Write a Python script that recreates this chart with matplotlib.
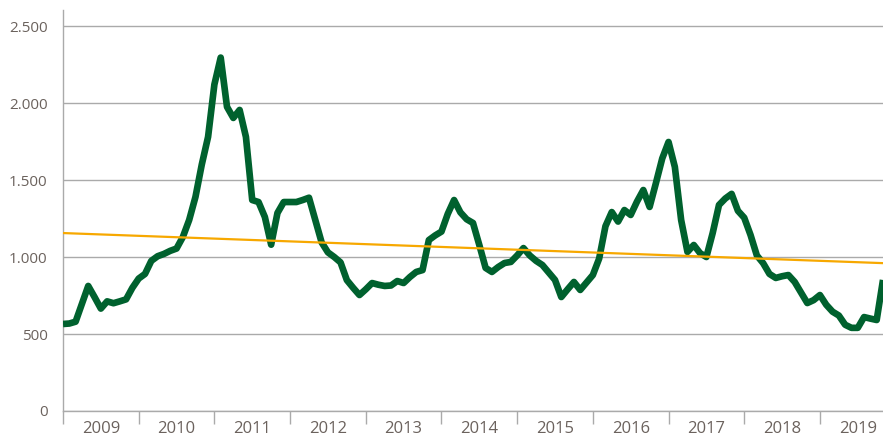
import numpy as np
import matplotlib
matplotlib.use("Agg")
import matplotlib.pyplot as plt
from matplotlib.ticker import FixedLocator, FuncFormatter

# Monthly values, Jan 2009 .. Nov 2019
values = [
    565, 568, 580, 695, 812, 740, 665, 712, 700, 712, 725, 800,      # 2009
    860, 890, 975, 1005, 1020, 1040, 1055, 1130, 1240, 1390, 1600, 1780,  # 2010
    2120, 2295, 1975, 1903, 1955, 1780, 1370, 1357, 1260, 1080, 1286, 1357,  # 2011
    1357, 1357, 1370, 1385, 1240, 1095, 1030, 1000, 965, 850, 800, 753,  # 2012
    790, 831, 820, 812, 815, 844, 831, 870, 903, 915, 1110, 1140,  # 2013
    1165, 1280, 1370, 1290, 1245, 1221, 1078, 929, 903, 935, 961, 968,  # 2014
    1010, 1058, 1010, 975, 948, 900, 851, 740, 790, 838, 786, 835,  # 2015
    883, 990, 1200, 1292, 1230, 1305, 1273, 1360, 1435, 1325, 1480, 1640,  # 2016
    1747, 1585, 1240, 1033, 1078, 1025, 1000, 1156, 1338, 1380, 1410, 1300,  # 2017
    1255, 1143, 1010, 960, 890, 864, 875, 883, 838, 770, 701, 720,  # 2018
    753, 690, 645, 620, 560, 540, 540, 610, 600, 591, 851,  # 2019
]
years = ["2009", "2010", "2011", "2012", "2013", "2014", "2015", "2016", "2017", "2018", "2019"]
y_ticks = [0, 500, 1000, 1500, 2000, 2500]

x = np.arange(len(values))
coef = np.polyfit(x, values, 1)
trend = np.polyval(coef, x)

fig = plt.figure(figsize=(8.83, 4.37), dpi=100)
ax = fig.add_axes([63 / 883, 26 / 437, 1 - 63 / 883, (411 - 10) / 437])

label_color = "#6b625d"
grid_color = "#aaaaaa"

ax.set_xlim(0, len(values) - 1)
ax.set_ylim(0, 2604)

ax.yaxis.set_major_locator(FixedLocator(y_ticks))
ax.yaxis.set_major_formatter(FuncFormatter(lambda v, p: f"{int(v):,}".replace(",", ".")))
ax.grid(axis="y", color=grid_color, linewidth=1.0, zorder=0)
ax.set_axisbelow(True)

ax.plot(x, values, color="#00612e", linewidth=4.8, solid_joinstyle="round",
        solid_capstyle="butt", zorder=3)
ax.plot(x, trend, color="#f7a800", linewidth=1.6, zorder=4)

# x axis: year boundaries as minor ticks, labels at year centers
ax.set_xticks([12 * i for i in range(len(years))], minor=True)
ax.set_xticks([12 * i + 6 for i in range(len(years))])
ax.set_xticklabels(years)
ax.tick_params(axis="x", which="major", length=0, pad=7, labelsize=12, labelcolor=label_color)
ax.tick_params(axis="x", which="minor", length=9, width=1.0, color=grid_color)
ax.tick_params(axis="y", length=0, pad=11, labelsize=11, labelcolor=label_color)

for s in ["top", "right"]:
    ax.spines[s].set_visible(False)
for s in ["left", "bottom"]:
    ax.spines[s].set_color(grid_color)
    ax.spines[s].set_linewidth(1.0)

for lbl in ax.get_xticklabels() + ax.get_yticklabels():
    lbl.set_fontfamily(["Open Sans", "DejaVu Sans"])

fig.savefig("out.png", dpi=100)
